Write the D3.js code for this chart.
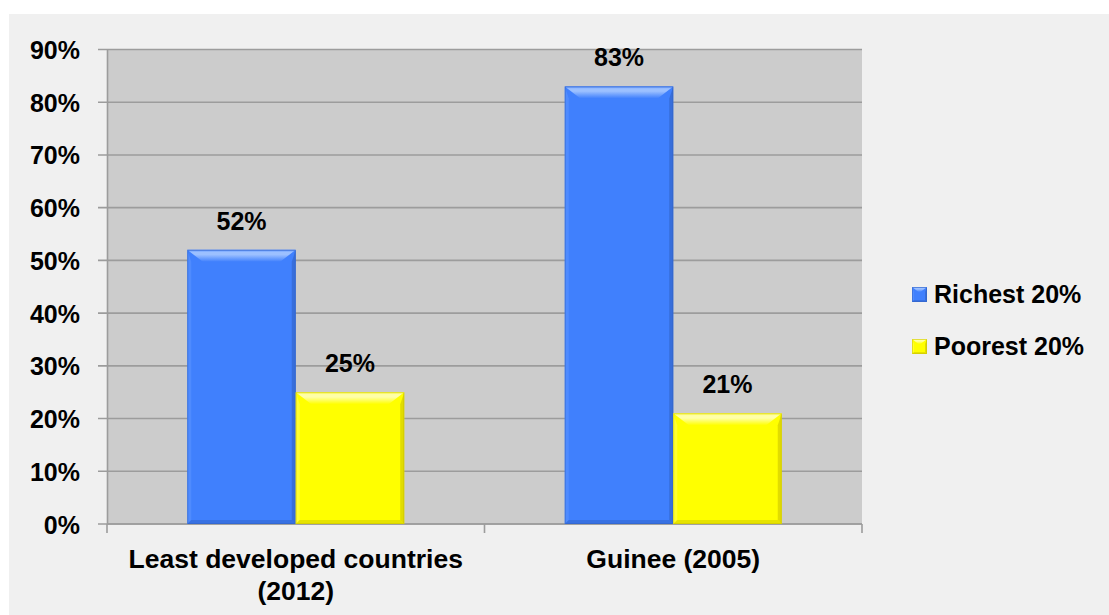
<!DOCTYPE html>
<html>
<head>
<meta charset="utf-8">
<script src="https://cdn.jsdelivr.net/npm/d3@7"></script>
<style>
  html, body { margin: 0; padding: 0; background: #ffffff; }
  svg { display: block; }
  text { font-family: "Liberation Sans", Arial, sans-serif; font-weight: bold; fill: #000; }
</style>
</head>
<body>
<svg id="chart" width="1109" height="615"></svg>
<script>
// Share of each group (%)
const categories = ["Least developed countries (2012)", "Guinee (2005)"];
const categoryLines = [["Least developed countries", "(2012)"], ["Guinee (2005)"]];
const seriesNames = ["Richest 20%", "Poorest 20%"];
const richest = [52, 83];
const poorest = [25, 21];
const yTicks = [0, 10, 20, 30, 40, 50, 60, 70, 80, 90];

const seriesValues = [richest, poorest];
const palette = {
  "Richest 20%": { base: "#4080fd", light: "#9cc0ff", dark: "#2f5fc0", side: "#5a92ff" },
  "Poorest 20%": { base: "#ffff00", light: "#ffffa8", dark: "#c8c000", side: "#ffff50" }
};

const svg = d3.select("#chart");

// outer panel
svg.append("rect").attr("x", 9).attr("y", 14).attr("width", 1100).attr("height", 601).attr("fill", "#f0f0f0");

const plot = { left: 107, right: 862, top: 49.5, bottom: 524 };

const x0 = d3.scaleBand().domain(categories).range([plot.left, plot.right]).paddingInner(0).paddingOuter(0);
const x1 = d3.scaleBand().domain(seriesNames).range([0, x0.bandwidth()]).paddingInner(0).paddingOuter(0.74);
const y = d3.scaleLinear().domain([0, 90]).range([plot.bottom, plot.top]);

// plot background
svg.append("rect")
  .attr("x", plot.left).attr("y", plot.top)
  .attr("width", plot.right - plot.left).attr("height", plot.bottom - plot.top)
  .attr("fill", "#cccccc");

// gridlines (extending left as tick marks)
svg.append("g").selectAll("line").data(yTicks).join("line")
  .attr("x1", plot.left - 9).attr("x2", plot.right)
  .attr("y1", d => y(d)).attr("y2", d => y(d))
  .attr("stroke", "#9c9c9c").attr("stroke-width", 1.6);

// y axis
const yAxis = d3.axisLeft(y).tickValues(yTicks).tickFormat(d => d + "%").tickSize(0).tickPadding(27);
const gy = svg.append("g").attr("transform", `translate(${plot.left},0)`).call(yAxis);
gy.select(".domain").attr("stroke", "#9c9c9c").attr("stroke-width", 1.6);
gy.selectAll("text").style("font-size", "25px").attr("dy", "0.36em")
  .style("font-family", "'Liberation Sans', Arial, sans-serif").style("font-weight", "bold").attr("fill", "#000");

// x axis line and category ticks
svg.append("line").attr("x1", plot.left).attr("x2", plot.right)
  .attr("y1", plot.bottom).attr("y2", plot.bottom)
  .attr("stroke", "#9c9c9c").attr("stroke-width", 1.6);
const xTickPos = categories.map(c => x0(c)).concat([plot.right]);
svg.append("g").selectAll("line").data(xTickPos).join("line")
  .attr("x1", d => d).attr("x2", d => d)
  .attr("y1", plot.bottom).attr("y2", plot.bottom + 9)
  .attr("stroke", "#9c9c9c").attr("stroke-width", 1.6);

// category labels
const catG = svg.append("g").selectAll("text").data(categories).join("text")
  .attr("x", d => x0(d) + x0.bandwidth() / 2)
  .attr("y", 568)
  .attr("text-anchor", "middle")
  .style("font-size", "26.5px");
catG.each(function (d, i) {
  const t = d3.select(this);
  categoryLines[i].forEach((ln, k) => {
    t.append("tspan").attr("x", x0(d) + x0.bandwidth() / 2).attr("dy", k === 0 ? 0 : 32).text(ln);
  });
});

// beveled bar drawing
function drawBar(g, bx, by, bw, bh, col, bevel) {
  const b = Math.min(bevel, bh / 2), s = Math.max(2, bevel / 3);
  g.append("rect").attr("x", bx).attr("y", by).attr("width", bw).attr("height", bh).attr("fill", col.base);
  // left side
  g.append("path").attr("d", `M${bx},${by} L${bx + s},${by + b} L${bx + s},${by + bh - s} L${bx},${by + bh} Z`)
    .attr("fill", col.side).attr("opacity", 0.6);
  // right side
  g.append("path").attr("d", `M${bx + bw},${by} L${bx + bw - s},${by + b} L${bx + bw - s},${by + bh - s} L${bx + bw},${by + bh} Z`)
    .attr("fill", col.dark).attr("opacity", 0.55);
  // bottom
  g.append("path").attr("d", `M${bx},${by + bh} L${bx + s},${by + bh - s} L${bx + bw - s},${by + bh - s} L${bx + bw},${by + bh} Z`)
    .attr("fill", col.dark).attr("opacity", 0.45);
  // top bevel
  g.append("path").attr("d", `M${bx},${by} L${bx + bw},${by} L${bx + bw - b * 1.3},${by + b} L${bx + b * 1.3},${by + b} Z`)
    .attr("fill", `url(#top-${col.id})`);
  // outline
  g.append("rect").attr("x", bx + 0.5).attr("y", by + 0.5).attr("width", bw - 1).attr("height", bh - 1)
    .attr("fill", "none").attr("stroke", col.dark).attr("stroke-width", 1).attr("opacity", 0.5);
}

const defs = svg.append("defs");
seriesNames.forEach((s, i) => {
  palette[s].id = i;
  const gr = defs.append("linearGradient").attr("id", "top-" + i).attr("x1", 0).attr("x2", 0).attr("y1", 0).attr("y2", 1);
  gr.append("stop").attr("offset", "0%").attr("stop-color", palette[s].side);
  gr.append("stop").attr("offset", "20%").attr("stop-color", palette[s].light);
  gr.append("stop").attr("offset", "40%").attr("stop-color", palette[s].light);
  gr.append("stop").attr("offset", "100%").attr("stop-color", palette[s].base);
});

const barsG = svg.append("g");
const labelsG = svg.append("g");
categories.forEach((c, ci) => {
  seriesNames.forEach((s, si) => {
    const v = seriesValues[si][ci];
    const bx = x0(c) + x1(s);
    const by = y(v);
    drawBar(barsG, bx, by, x1.bandwidth(), y(0) - by, palette[s], 12);
    labelsG.append("text")
      .attr("x", bx + x1.bandwidth() / 2).attr("y", by - 20)
      .attr("text-anchor", "middle").style("font-size", "25px")
      .text(v + "%");
  });
});

// legend
const legend = svg.append("g").attr("transform", "translate(912,287)");
seriesNames.forEach((s, i) => {
  const g = legend.append("g").attr("transform", `translate(0,${i * 52})`);
  drawBar(g, 0, 0, 15, 15, palette[s], 5);
  g.append("text").attr("x", 22).attr("y", 16).style("font-size", "25px").text(s);
});
</script>
</body>
</html>
